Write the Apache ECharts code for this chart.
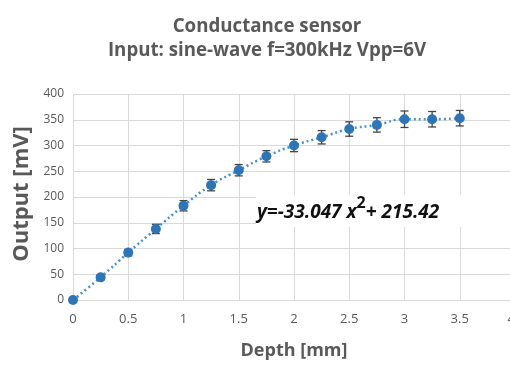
<!DOCTYPE html>
<html>
<head>
<meta charset="utf-8">
<script src="https://cdn.jsdelivr.net/npm/echarts@6/dist/echarts.min.js"></script>
<style>
  html, body { margin: 0; padding: 0; background: #fff; }
  #chart { width: 510px; height: 365px; }
</style>
</head>
<body>
<div id="chart"></div>
<script>
// depth [mm] and measured output [mV]
const depth = [0, 0.25, 0.5, 0.75, 1, 1.25, 1.5, 1.75, 2, 2.25, 2.5, 2.75, 3, 3.25, 3.5];
const output = [0, 44, 92, 138, 183, 223, 252, 279, 300, 316, 332, 340, 351, 351, 353];
const errors = [0, 5, 6, 9, 10, 11, 11, 11, 12, 13, 14, 14, 16, 15, 15];

const titleText = 'Conductance sensor';
const subText = 'Input: sine-wave f=300kHz Vpp=6V';

const grey = '#595959';
const blue = '#2e75b6';

const chart = echarts.init(document.getElementById('chart'));

const option = {
  animation: false,
  title: {
    text: titleText,
    subtext: subText,
    left: 262,
    textAlign: 'center',
    top: 12,
    itemGap: 5,
    textStyle: { fontFamily: 'Open Sans', fontSize: 18.7, fontWeight: 'bold', color: grey },
    subtextStyle: { fontFamily: 'Open Sans', fontSize: 18.7, fontWeight: 'bold', color: grey }
  },
  grid: { left: 73, top: 94, width: 442, height: 206, outerBoundsMode: 'none' },
  xAxis: {
    type: 'value',
    min: 0,
    max: 4,
    interval: 0.5,
    name: 'Depth [mm]',
    nameLocation: 'middle',
    nameGap: 42,
    nameTextStyle: { fontFamily: 'Open Sans', fontSize: 18, fontWeight: 'bold', color: grey },
    axisLine: { show: false },
    axisTick: { show: false },
    axisLabel: { fontFamily: 'Open Sans', fontSize: 13, fontWeight: 500, color: grey, margin: 13, alignMaxLabel: 'right' },
    splitLine: { show: true, lineStyle: { color: '#d9d9d9', width: 1 } }
  },
  yAxis: {
    type: 'value',
    min: 0,
    max: 400,
    interval: 50,
    name: 'Output [mV]',
    nameLocation: 'middle',
    nameGap: 40,
    nameTextStyle: { fontFamily: 'Open Sans', fontSize: 22, fontWeight: 'bold', color: grey, padding: [0, 0, 0, 6] },
    axisLine: { show: false },
    axisTick: { show: false },
    axisLabel: { fontFamily: 'Open Sans', fontSize: 12, color: grey, margin: 9 },
    splitLine: { lineStyle: { color: '#d9d9d9', width: 1 } }
  },
  series: [
    {
      type: 'custom',
      z: 3,
      data: depth.map((d, i) => [d, output[i], errors[i]]),
      renderItem: function (params, api) {
        const x = api.value(0);
        const y = api.value(1);
        const e = api.value(2);
        if (!e) return null;
        const top = api.coord([x, y + e]);
        const bot = api.coord([x, y - e]);
        const w = 4;
        const style = { stroke: '#444', lineWidth: 1.3 };
        return {
          type: 'group',
          children: [
            { type: 'line', shape: { x1: top[0], y1: top[1], x2: bot[0], y2: bot[1] }, style },
            { type: 'line', shape: { x1: top[0] - w, y1: top[1], x2: top[0] + w, y2: top[1] }, style },
            { type: 'line', shape: { x1: bot[0] - w, y1: bot[1], x2: bot[0] + w, y2: bot[1] }, style }
          ]
        };
      }
    },
    {
      type: 'line',
      z: 4,
      data: depth.map((d, i) => [d, output[i]]),
      smooth: true,
      symbol: 'circle',
      symbolSize: 10,
      lineStyle: { color: '#4a8fd0', width: 2.5, type: [2, 3] },
      itemStyle: { color: blue }
    }
  ],
  graphic: [
    {
      type: 'rect',
      left: 256,
      top: 195,
      shape: { width: 260, height: 32 },
      style: { fill: '#fff' },
      z: 10
    },
    {
      type: 'text',
      left: 257,
      top: 195,
      z: 11,
      style: {
        text: '{a|y=-33.047 x}{s|2}{a|+ 215.42}',
        rich: {
          a: { fontFamily: 'Open Sans', fontSize: 19, fontStyle: 'italic', fontWeight: 'bold', fill: '#111', verticalAlign: 'bottom', padding: [8, 0, 0, 0] },
          s: { fontFamily: 'Open Sans', fontSize: 16, fontWeight: 'bold', fill: '#111', verticalAlign: 'top', padding: [0, 0, 10, 0] }
        }
      }
    }
  ]
};

chart.setOption(option);
</script>
</body>
</html>
